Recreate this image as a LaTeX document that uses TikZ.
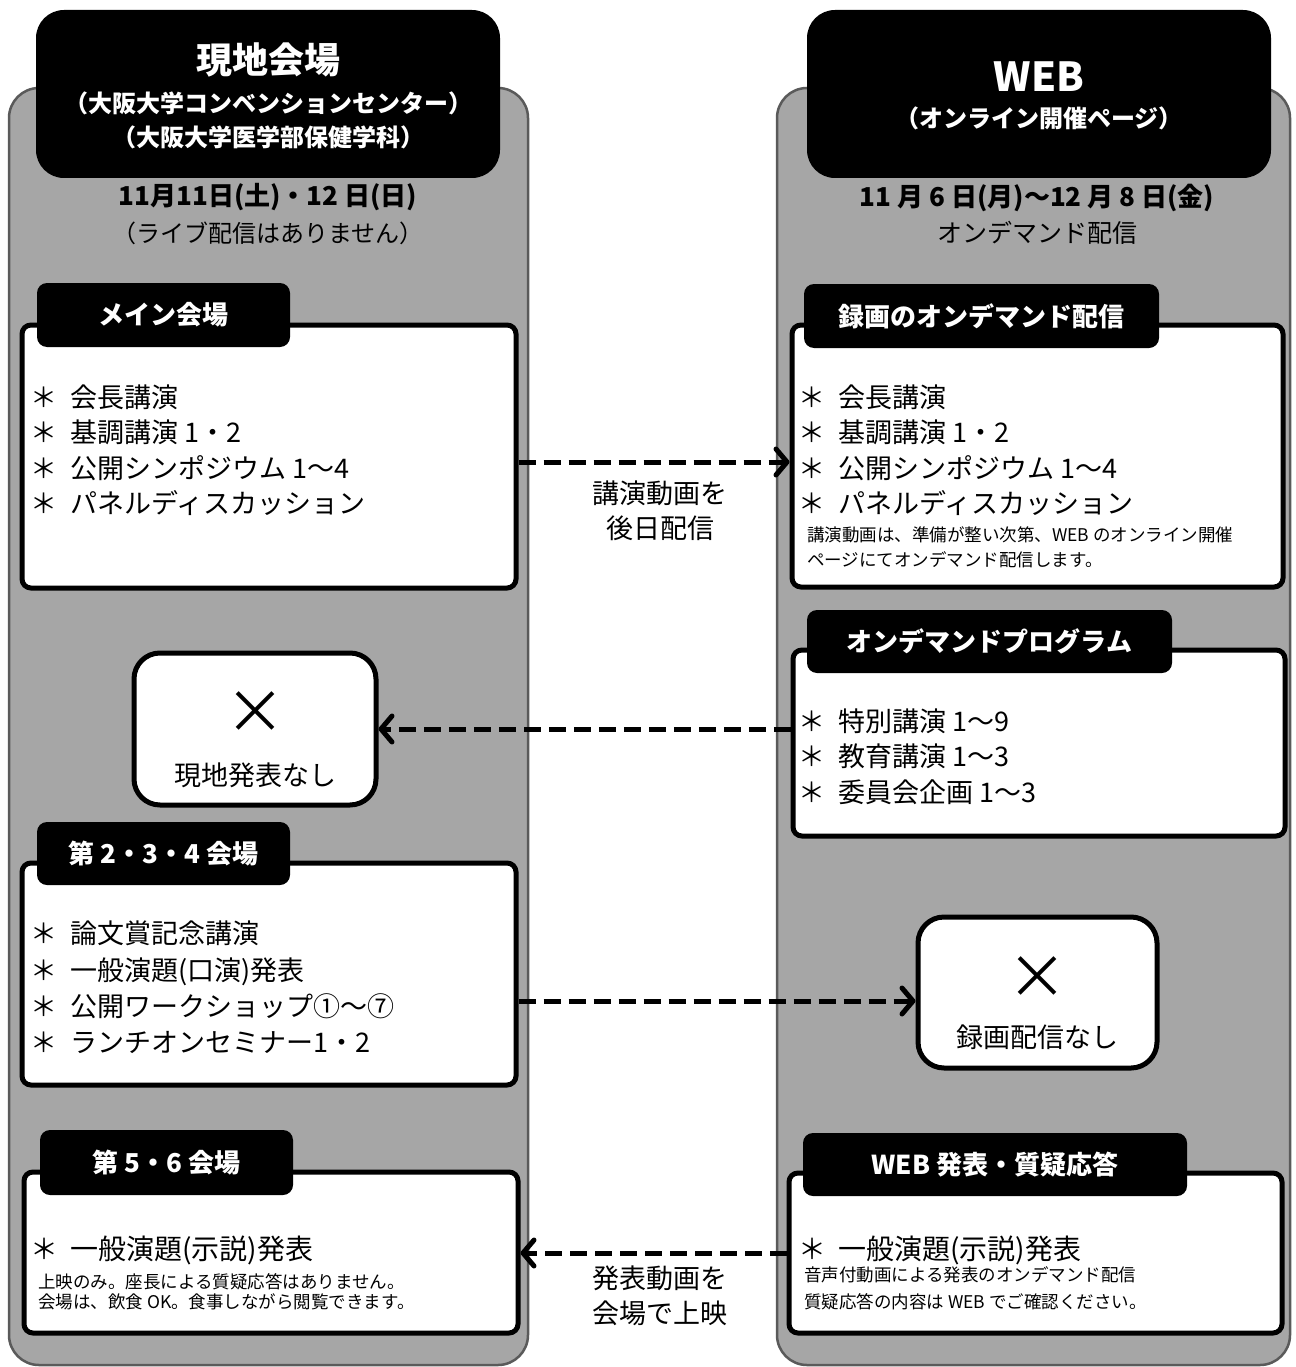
\documentclass[tikz,border=0pt]{standalone}
\usepackage{fontspec}
\setmainfont{Noto Sans CJK JP}
\usetikzlibrary{arrows.meta}
\definecolor{panelgray}{HTML}{A6A6A6}
\definecolor{panelborder}{HTML}{5A5A5A}
\newcommand\myfs[2]{\fontsize{#1}{#2}\selectfont}
\newcommand\itembul{\makebox[40pt][l]{＊}}
\begin{document}
\begin{tikzpicture}[x=1pt,y=-1pt,
  panel/.style={draw=panelborder, line width=2.5pt, fill=panelgray, rounded corners=30pt, inner sep=0pt},
  hdr/.style={fill=black, rounded corners=28pt, inner sep=0pt},
  hdrtxt/.style={text=white, inner sep=0pt},
  tab/.style={fill=black, rounded corners=10pt, text=white, font=\bfseries\myfs{26}{30}, inner sep=0pt},
  wbox/.style={draw=black, fill=white, line width=5pt, rounded corners=9pt, inner sep=0pt},
  nbox/.style={draw=black, fill=white, line width=5pt, rounded corners=26pt, inner sep=0pt},
  item/.style={font=\myfs{27}{35.5}, align=left, inner sep=0pt, anchor=west},
  small/.style={font=\myfs{17.5}{25}, align=left, inner sep=0pt, anchor=west},
  lbl/.style={font=\myfs{27}{35}, align=center, inner sep=0pt},
  xmark/.style={font=\myfs{60}{60}, inner sep=0pt},
  conn/.style={line width=5pt, dash pattern=on 17pt off 8pt, -{Straight Barb[length=11pt,width=26pt,round]}},
]
\useasboundingbox (0,0) rectangle (1295,1367);
% panels
\node[panel, minimum width=519pt, minimum height=1277pt] (panelL) at (268.5,726.5) {};
\node[panel, minimum width=513pt, minimum height=1277pt] (panelR) at (1033.5,726.5) {};
% headers
\node[hdr, minimum width=464pt, minimum height=168pt] (hdrL) at (268,94) {};
\node[hdrtxt, font=\bfseries\myfs{36}{40}] (hdrLt) at (268,60) {現地会場};
\node[hdrtxt, font=\bfseries\myfs{24}{34}, align=center] (hdrLs) at (268,120) {（大阪大学コンベンションセンター）\\（大阪大学医学部保健学科）};
\node[hdr, minimum width=464pt, minimum height=168pt] (hdrR) at (1039,94) {};
\node[hdrtxt, font=\bfseries\myfs{40}{44}] (hdrRt) at (1039,77) {WEB};
\node[hdrtxt, font=\bfseries\myfs{24}{30}] (hdrRs) at (1039,118) {（オンライン開催ページ）};
% dates
\node[inner sep=0pt, font=\bfseries\myfs{26}{36}] (dateL) at (268,197) {11月11日(土)・12 日(日)};
\node[inner sep=0pt, font=\myfs{24}{30}] (noteL) at (268,233) {（ライブ配信はありません）};
\node[inner sep=0pt, font=\bfseries\myfs{26}{36}] (dateR) at (1037,198) {11 月 6 日(月)～12 月 8 日(金)};
\node[inner sep=0pt, font=\myfs{25}{30}] (noteR) at (1037,233) {オンデマンド配信};
% box 1 main hall
\node[wbox, minimum width=494pt, minimum height=263pt] (box1) at (269,456.5) {};
\node[tab, minimum width=253pt, minimum height=64pt] (tab1) at (163.5,315) {メイン会場};
\node[item] (list1) at (30,450) {\itembul 会長講演\\\itembul 基調講演 1・2\\\itembul 公開シンポジウム 1～4\\\itembul パネルディスカッション};
% box 2 recorded on demand
\node[wbox, minimum width=491pt, minimum height=262pt] (box2) at (1037.5,456) {};
\node[tab, minimum width=355pt, minimum height=64pt] (tab2) at (981.5,316) {録画のオンデマンド配信};
\node[item] (list2) at (798,450) {\itembul 会長講演\\\itembul 基調講演 1・2\\\itembul 公開シンポジウム 1～4\\\itembul パネルディスカッション};
\node[small] (small2) at (807,547.5) {講演動画は、準備が整い次第、WEB のオンライン開催\\ページにてオンデマンド配信します。};
% no onsite box
\node[nbox, minimum width=242pt, minimum height=152pt] (nobox1) at (255,729) {};
\node[xmark] (x1) at (255,713) {×};
\node[lbl] (nt1) at (255,775) {現地発表なし};
% box 3 on demand program
\node[wbox, minimum width=492pt, minimum height=186pt] (box3) at (1039,743) {};
\node[tab, minimum width=365pt, minimum height=63pt] (tab3) at (989.5,641.5) {オンデマンドプログラム};
\node[item] (list3) at (798,756.5) {\itembul 特別講演 1～9\\\itembul 教育講演 1～3\\\itembul 委員会企画 1～3};
% box 4 halls 2-4
\node[wbox, minimum width=494pt, minimum height=222pt] (box4) at (269,974) {};
\node[tab, minimum width=253pt, minimum height=63pt] (tab4) at (163.5,853.5) {第 2・3・4 会場};
\node[item, font=\myfs{27}{36.3}] (list4) at (30,987.5) {\itembul 論文賞記念講演\\\itembul 一般演題(口演)発表\\\itembul 公開ワークショップ①～⑦\\\itembul ランチオンセミナー1・2};
% no recording box
\node[nbox, minimum width=239pt, minimum height=151pt] (nobox2) at (1037.5,992.5) {};
\node[xmark] (x2) at (1037,978) {×};
\node[lbl] (nt2) at (1037,1037) {録画配信なし};
% box 5 halls 5-6
\node[wbox, minimum width=494pt, minimum height=161pt] (box5) at (271,1252.5) {};
\node[tab, minimum width=253pt, minimum height=65pt] (tab5) at (166.5,1162.5) {第 5・6 会場};
\node[item, font=\myfs{28}{34}] (line5) at (30,1250) {\itembul 一般演題(示説)発表};
\node[small, font=\myfs{17.5}{20}] (small5) at (38,1292) {上映のみ。座長による質疑応答はありません。\\会場は、飲食 OK。食事しながら閲覧できます。};
% box 6 web presentation
\node[wbox, minimum width=493pt, minimum height=160pt] (box6) at (1035.5,1253) {};
\node[tab, minimum width=384pt, minimum height=63pt] (tab6) at (995,1164.5) {WEB 発表・質疑応答};
\node[item, font=\myfs{28}{34}] (line6) at (798,1250) {\itembul 一般演題(示説)発表};
\node[small, font=\myfs{17.5}{27}] (small6) at (804,1288.5) {音声付動画による発表のオンデマンド配信\\質疑応答の内容は WEB でご確認ください。};
% connectors
\draw[conn] ([yshift=-5.5pt]box1.east) -- ([yshift=-5.5pt]box1.east -| box2.west);
\node[lbl] (lab1) at (660,510.5) {講演動画を\\後日配信};
\draw[conn] (nobox1.east -| box3.west) -- (nobox1.east);
\draw[conn] ([yshift=-8.5pt]nobox2.west -| box4.east) -- ([yshift=-8.5pt]nobox2.west);
\draw[conn] (box6.west) -- (box6.west -| box5.east);
\node[lbl] (lab2) at (660,1295.5) {発表動画を\\会場で上映};
\end{tikzpicture}
\end{document}
